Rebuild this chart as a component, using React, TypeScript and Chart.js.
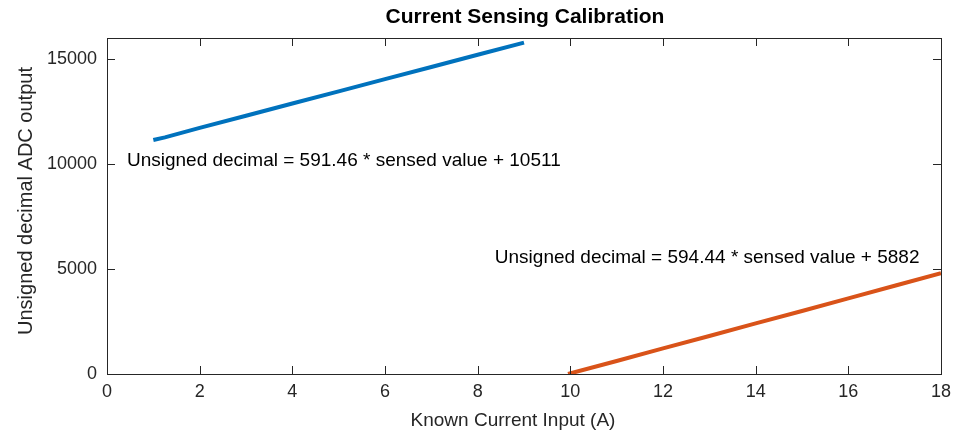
import React, { useEffect, useRef } from "react";
import { Chart, registerables } from "chart.js";

Chart.register(...registerables);

const titleText = "Current Sensing Calibration";
const xAxisTitle = "Known Current Input (A)";
const yAxisTitle = "Unsigned decimal ADC output";

const blueX = [1, 1.25, 2, 3, 4, 5, 6, 7, 8, 9];
const blueY = [11140, 11270, 11720, 12300, 12880, 13460, 14040, 14620, 15200, 15780];
const orangeX = [9.95, 11, 12, 13, 14, 15, 16, 17, 18];
const orangeY = [0, 620, 1220, 1810, 2410, 3000, 3600, 4200, 4800];

const xTicks = [0, 2, 4, 6, 8, 10, 12, 14, 16, 18];
const yTicks = [0, 5000, 10000, 15000];

const blueLabel = "Unsigned decimal = 591.46 * sensed value + 10511";
const orangeLabel = "Unsigned decimal = 594.44 * sensed value + 5882";
const blueLabelPos = [0.43, 10170];
const orangeLabelPos = [8.37, 5550];

const FONT = "'Liberation Sans', Arial, Helvetica, sans-serif";

export default function App() {
  const ref = useRef<HTMLCanvasElement>(null);
  useEffect(() => {
    if (!ref.current) return;
    const overlay = {
      id: "overlay",
      afterDraw(chart: any) {
        const ctx = chart.ctx;
        const a = chart.chartArea;
        const xs = chart.scales.x;
        const ys = chart.scales.y;
        ctx.save();
        ctx.strokeStyle = "#262626";
        ctx.lineWidth = 1;
        ctx.strokeRect(Math.round(a.left) + 0.5, Math.round(a.top) + 0.5, Math.round(a.right - a.left), Math.round(a.bottom - a.top));
        const tl = 8;
        ctx.beginPath();
        xTicks.forEach((v) => {
          const px = Math.round(xs.getPixelForValue(v)) + 0.5;
          ctx.moveTo(px, a.bottom);
          ctx.lineTo(px, a.bottom - tl);
          ctx.moveTo(px, a.top);
          ctx.lineTo(px, a.top + tl);
        });
        yTicks.forEach((v) => {
          const py = Math.round(ys.getPixelForValue(v)) + 0.5;
          ctx.moveTo(a.left, py);
          ctx.lineTo(a.left + tl, py);
          ctx.moveTo(a.right, py);
          ctx.lineTo(a.right - tl, py);
        });
        ctx.stroke();

        ctx.fillStyle = "#000";
        ctx.font = `bold 21px ${FONT}`;
        ctx.textAlign = "center";
        ctx.textBaseline = "middle";
        ctx.fillText(titleText, 525, 17);

        ctx.fillStyle = "#262626";
        ctx.font = `19px ${FONT}`;
        ctx.fillText(xAxisTitle, 513, 421);
        ctx.save();
        ctx.translate(26, 201);
        ctx.rotate(-Math.PI / 2);
        ctx.font = `20px ${FONT}`;
        ctx.fillText(yAxisTitle, 0, 0);
        ctx.restore();

        ctx.fillStyle = "#000";
        ctx.font = `19px ${FONT}`;
        ctx.textAlign = "left";
        ctx.fillText(blueLabel, xs.getPixelForValue(blueLabelPos[0]), ys.getPixelForValue(blueLabelPos[1]));
        ctx.fillText(orangeLabel, xs.getPixelForValue(orangeLabelPos[0]), ys.getPixelForValue(orangeLabelPos[1]));
        ctx.restore();
      },
    };
    const chart = new Chart(ref.current, {
      type: "line",
      data: {
        datasets: [
          {
            data: blueX.map((x, i) => ({ x, y: blueY[i] })),
            borderColor: "#0072BD",
            backgroundColor: "#0072BD",
            borderWidth: 4,
            pointRadius: 0,
            tension: 0,
          },
          {
            data: orangeX.map((x, i) => ({ x, y: orangeY[i] })),
            borderColor: "#D95319",
            backgroundColor: "#D95319",
            borderWidth: 4,
            pointRadius: 0,
            tension: 0,
          },
        ],
      },
      options: {
        animation: false,
        responsive: false,
        maintainAspectRatio: false,
        layout: { padding: { top: 38, right: 12, left: 0, bottom: 0 } },
        plugins: { legend: { display: false }, title: { display: false }, tooltip: { enabled: false } },
        scales: {
          x: {
            type: "linear",
            min: 0,
            max: 18,
            afterBuildTicks: (s: any) => {
              s.ticks = xTicks.map((v) => ({ value: v }));
            },
            afterFit: (s: any) => {
              s.height = 61;
              s.paddingLeft = 0;
              s.paddingRight = 0;
            },
            grid: { display: false, drawTicks: false },
            border: { display: false },
            ticks: {
              color: "#262626",
              font: { family: FONT, size: 18 },
              padding: 7,
              maxRotation: 0,
              callback: (v: any) => String(v),
            },
          },
          y: {
            type: "linear",
            min: 0,
            max: 16000,
            afterBuildTicks: (s: any) => {
              s.ticks = yTicks.map((v) => ({ value: v }));
            },
            afterFit: (s: any) => {
              s.width = 107;
              s.paddingTop = 0;
              s.paddingBottom = 0;
            },
            grid: { display: false, drawTicks: false },
            border: { display: false },
            ticks: {
              color: "#262626",
              font: { family: FONT, size: 18 },
              padding: 10,
              callback: (v: any) => String(v),
            },
          },
        },
      },
      plugins: [overlay],
    });
    return () => chart.destroy();
  }, []);
  return (
    <div style={{ position: "fixed", left: 0, top: 0, width: 953, height: 435, background: "#fff" }}>
      <canvas ref={ref} width={953} height={435} style={{ width: 953, height: 435 }} />
    </div>
  );
}
